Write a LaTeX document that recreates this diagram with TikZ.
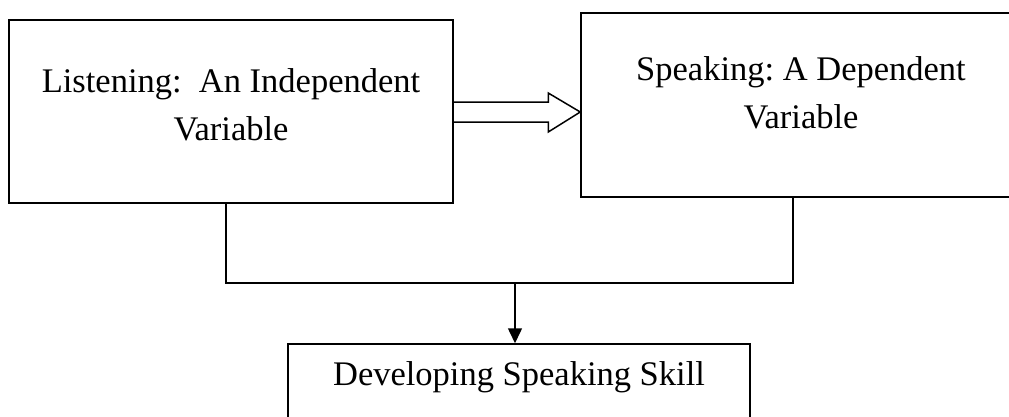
\documentclass[tikz,border=0pt]{standalone}
\usepackage{fontspec}
\setmainfont{Liberation Serif}
\usetikzlibrary{arrows.meta}
\frenchspacing

\begin{document}
\begin{tikzpicture}[x=1pt,y=1pt,line width=1.5pt,
  box/.style={draw=black,rectangle,inner sep=0pt},
  txt/.style={align=center,inner sep=0pt,font=\fontsize{34.5pt}{48pt}\selectfont},
  link/.style={draw=black,line width=1.5pt}]
\tikzstyle{every node}+=[inner sep=0pt]
\useasboundingbox (0,0) rectangle (1009,-416);
\fill[white] (0,0) rectangle (1009,-416);
\node[box,minimum width=444pt,minimum height=183pt] (lbox) at (231,-111.5) {};
\node[box,minimum width=440pt,minimum height=184pt] (rbox) at (801,-105) {};
\node[box,minimum width=462pt,minimum height=96pt] (dbox) at (519,-392) {};
\node[txt,anchor=base] (ltext) at (231,-140) {Listening:\ \ An Independent\\Variable};
\node[txt,anchor=base] (rtext) at (801,-128) {Speaking: A Dependent\\Variable};
\node[txt,anchor=base] (dtext) at (519,-385) {Developing Speaking Skill};
\coordinate (atail) at (lbox.east |- 0,-112);
\coordinate (atip) at (rbox.west |- 0,-112);
\draw[link] ([yshift=10pt]atail) -- ([xshift=-32pt,yshift=10pt]atip)
  -- ([xshift=-32pt,yshift=19pt]atip) -- (atip) -- ([xshift=-32pt,yshift=-20pt]atip)
  -- ([xshift=-32pt,yshift=-10pt]atip) -- ([yshift=-10pt]atail);
\coordinate (join) at (515,-283);
\draw[link] ([xshift=-5pt]lbox.south) |- (join) -| ([xshift=-8pt]rbox.south);
\draw[link,-{Triangle[length=15pt,width=14pt]}] (join) -- (join |- dbox.north);
\end{tikzpicture}
\end{document}
